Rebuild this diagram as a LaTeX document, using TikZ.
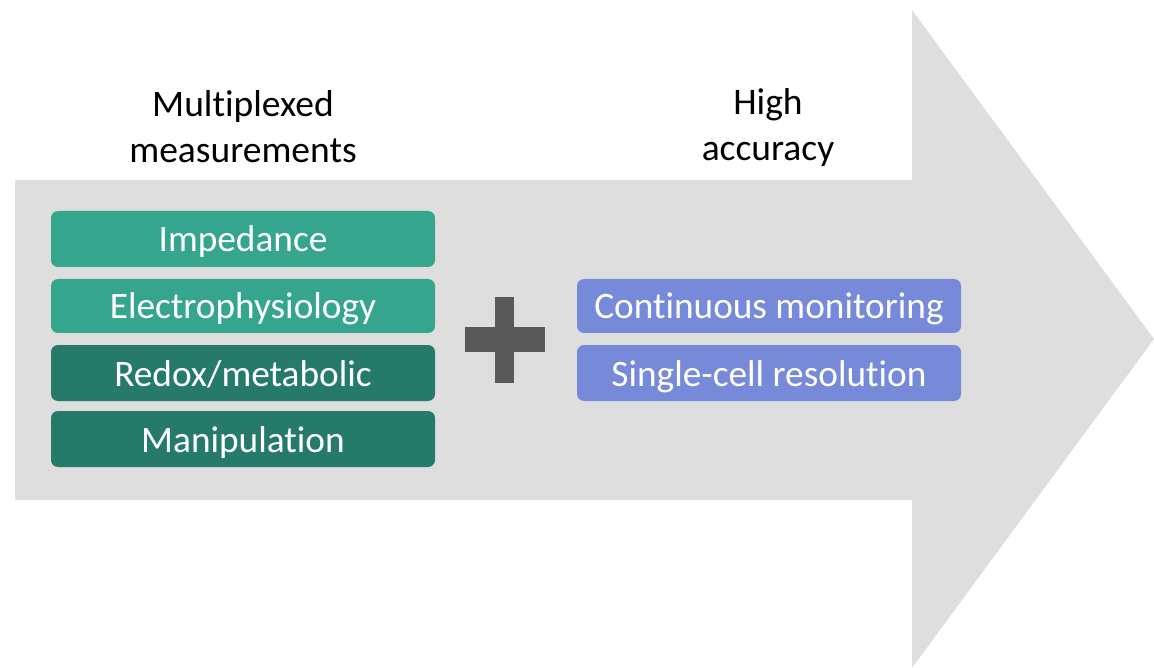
\documentclass[tikz,border=0pt]{standalone}
\usepackage{fontspec}
\setmainfont{Carlito}[Ligatures=NoCommon]
\definecolor{bgarrow}{HTML}{DEDEDE}
\definecolor{tealA}{HTML}{35A58D}
\definecolor{tealB}{HTML}{267A6A}
\definecolor{blueA}{HTML}{7789D9}
\definecolor{plusgray}{HTML}{595959}
\begin{document}
\begin{tikzpicture}[x=1pt,y=-1pt,
  box/.style={rounded corners=7pt, minimum width=384pt, minimum height=56pt, inner sep=0pt,
    text=white, font=\fontsize{37.3}{44}\selectfont, text height=28pt, text depth=2pt},
  head/.style={align=center, inner sep=0pt, font=\fontsize{37.5}{46}\selectfont}]
\useasboundingbox (0,0) rectangle (1154,668);
\fill[bgarrow] (15,180) -- (912,180) -- (912,10) -- (1154,339) -- (912,668) -- (912,500) -- (15,500) -- cycle;
\node[head] (mm) at (243,127) {Multiplexed\\measurements};
\node[head] (ha) at (768,128) {High\\accuracy};
\node[box, fill=tealA] (imp) at (243,239) {Impedance};
\node[box, fill=tealA, minimum height=54pt] (elec) at (243,306) {Electrophysiology};
\node[box, fill=tealB] (redox) at (243,373) {Redox/metabolic};
\node[box, fill=tealB] (manip) at (243,439) {Manipulation};
\node[box, fill=blueA, minimum height=54pt] (cont) at (769,306) {Continuous monitoring};
\node[box, fill=blueA] (single) at (769,373) {Single-cell resolution};
\fill[plusgray] (465,327) rectangle (545,352);
\fill[plusgray] (495,297) rectangle (514,383);
\end{tikzpicture}
\end{document}
